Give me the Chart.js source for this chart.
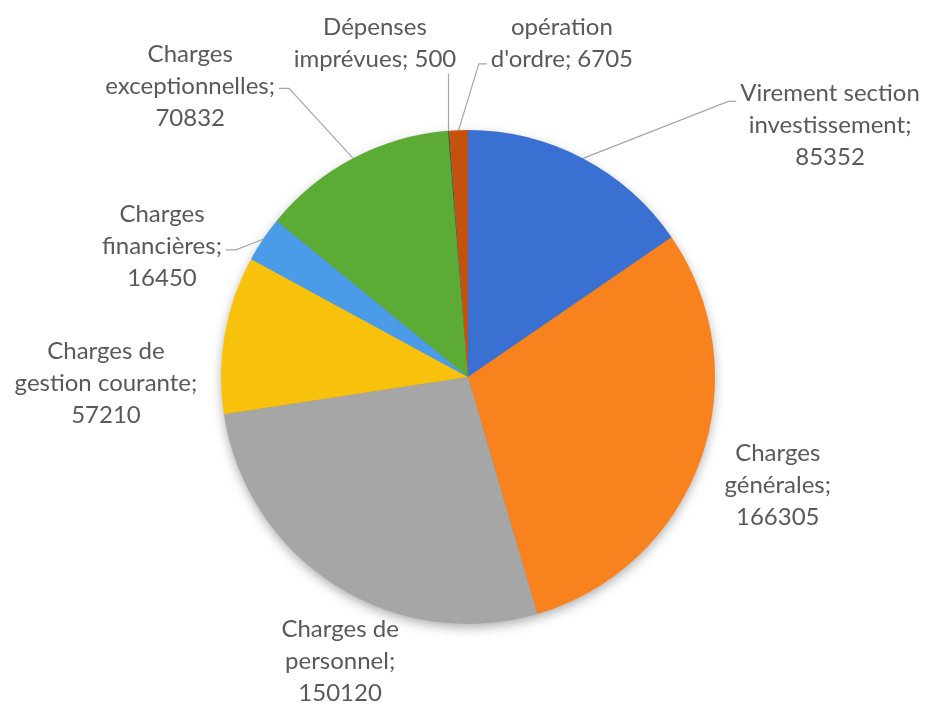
<!DOCTYPE html>
<html>
<head>
<meta charset="utf-8">
<script src="https://cdn.jsdelivr.net/npm/chart.js@4.4.1/dist/chart.umd.min.js"></script>
<style>
  html, body { margin: 0; padding: 0; background: #fff; }
  #wrap { width: 928px; height: 704px; position: relative; }
</style>
</head>
<body>
<div id="wrap"><canvas id="myChart" width="928" height="704"></canvas></div>
<script>
// données du graphique
const categories = ["Virement section investissement", "Charges générales", "Charges de personnel",
	"Charges de gestion courante", "Charges financières", "Charges exceptionnelles",
	"Dépenses imprévues", "opération d'ordre"];
const values = [85352, 166305, 150120, 57210, 16450, 70832, 500, 6705];
// découpage des étiquettes (| = retour à la ligne), valeur sur sa propre ligne ou non
const categoryLines = ["Virement section|investissement", "Charges|générales", "Charges de|personnel",
	"Charges de|gestion courante", "Charges|financières", "Charges|exceptionnelles",
	"Dépenses|imprévues", "opération|d'ordre"];
const valueOwnLine = [true, true, true, true, true, true, false, false];

const colors = ["#3A70D2", "#F7821E", "#A6A6A6", "#F8C20C", "#4A9BE8", "#5CAB35", "#3F6A2A", "#C4520E"];

// placement des étiquettes : angle (degrés depuis le haut) et distance (en rayons)
const labelPolar = [[55.2, 1.785], [109.2, 1.328], [204.2, 1.263], [269.0, 1.466],
	[293.2, 1.348], [316.3, 1.628], [344.4, 1.401], [15.7, 1.405]];
// lignes de rappel
const leaders = [{ side: "left", line: 0, dy: 8 }, null, null, null,
	{ side: "right", line: 1, dy: 4 }, { side: "right", line: 1, dy: 2 },
	{ side: "bottom" }, { side: "left", line: 1, dy: 5 }];

const FONT = "24px Lato, 'Open Sans', sans-serif";
const LINE_H = 32;

function shade(hex, f) {
	const n = parseInt(hex.slice(1), 16);
	const r = Math.round(((n >> 16) & 255) * f);
	const g = Math.round(((n >> 8) & 255) * f);
	const b = Math.round((n & 255) * f);
	return "rgb(" + r + "," + g + "," + b + ")";
}

function labelText(i) {
	let lines = categoryLines[i].split("|");
	if (valueOwnLine[i]) {
		lines[lines.length - 1] += ";";
		lines.push(String(values[i]));
	} else {
		lines[lines.length - 1] += "; " + values[i];
	}
	return lines;
}

// ombre portée derrière le camembert
const shadowPlugin = {
	id: "shadowPlugin",
	beforeDatasetsDraw(chart) {
		const arc = chart.getDatasetMeta(0).data[0];
		if (!arc) return;
		const ctx = chart.ctx;
		ctx.save();
		ctx.shadowColor = "rgba(0,0,0,0.35)";
		ctx.shadowBlur = 12;
		ctx.shadowOffsetY = 4;
		ctx.fillStyle = "#888";
		ctx.beginPath();
		ctx.arc(arc.x, arc.y, arc.outerRadius - 1, 0, Math.PI * 2);
		ctx.fill();
		ctx.restore();
	}
};

// étiquettes + lignes de rappel
const labelPlugin = {
	id: "labelPlugin",
	afterDatasetsDraw(chart) {
		const meta = chart.getDatasetMeta(0);
		const ctx = chart.ctx;
		ctx.save();
		ctx.font = FONT;
		ctx.textAlign = "center";
		ctx.textBaseline = "middle";
		meta.data.forEach((arc, i) => {
			const cx = arc.x, cy = arc.y, R = arc.outerRadius;
			const a = labelPolar[i][0] * Math.PI / 180;
			const d = labelPolar[i][1] * R;
			const lx = cx + d * Math.sin(a);
			const ly = cy - d * Math.cos(a);
			const lines = labelText(i);
			const top = ly - (lines.length - 1) * LINE_H / 2;
			const widths = lines.map(t => ctx.measureText(t).width);

			const lead = leaders[i];
			if (lead) {
				const mid = (arc.startAngle + arc.endAngle) / 2;
				const px = cx + R * Math.cos(mid);
				const py = cy + R * Math.sin(mid);
				ctx.strokeStyle = "#A6A6A6";
				ctx.lineWidth = 1.2;
				ctx.beginPath();
				ctx.moveTo(px, py);
				if (lead.side === "bottom") {
					ctx.lineTo(px, top + (lines.length - 1) * LINE_H + 14);
				} else {
					const y = top + lead.line * LINE_H + lead.dy;
					const w = widths[lead.line];
					if (lead.side === "left") {
						const ex = lx - w / 2 - 4;
						ctx.lineTo(ex - 8, y);
						ctx.lineTo(ex, y);
					} else {
						const ex = lx + w / 2 + 4;
						ctx.lineTo(ex + 10, y);
						ctx.lineTo(ex, y);
					}
				}
				ctx.stroke();
			}

			ctx.fillStyle = "#595959";
			lines.forEach((t, k) => ctx.fillText(t, lx, top + k * LINE_H));
		});
		ctx.restore();
	}
};

const ctx = document.getElementById("myChart").getContext("2d");
const myChart = new Chart(ctx, {
	type: "pie",
	data: {
		labels: categories,
		datasets: [{
			data: values,
			borderWidth: 0,
			backgroundColor: function(context) {
				const chart = context.chart;
				const arc = chart.getDatasetMeta(0).data[context.dataIndex];
				const base = colors[context.dataIndex];
				if (!arc || !arc.outerRadius) return base;
				const g = chart.ctx.createRadialGradient(arc.x, arc.y, 0, arc.x, arc.y, arc.outerRadius);
				g.addColorStop(0, base);
				g.addColorStop(0.9, base);
				g.addColorStop(1, shade(base, 0.8));
				return g;
			},
		}],
	},
	options: {
		responsive: false,
		animation: false,
		events: [],
		layout: {
			padding: { top: 130, bottom: 80, left: 221, right: 213 },
		},
		plugins: {
			legend: { display: false },
			tooltip: { enabled: false },
			title: { display: false },
		},
	},
	plugins: [shadowPlugin, labelPlugin],
});
</script>
</body>
</html>
